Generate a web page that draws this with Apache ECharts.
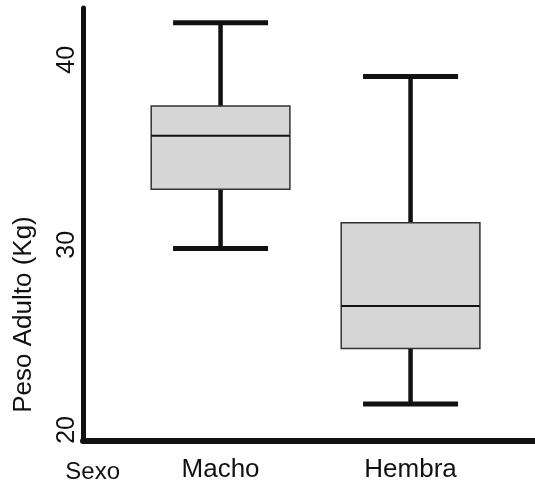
<!DOCTYPE html>
<html>
<head>
<meta charset="utf-8">
<script src="https://cdn.jsdelivr.net/npm/echarts@6/dist/echarts.min.js"></script>
<style>
html,body{margin:0;padding:0;background:#fff;}
#chart{width:535px;height:482px;}
</style>
</head>
<body>
<div id="chart"></div>
<script>
const categories = ['Macho', 'Hembra'];
const lowWhisker = [29.8, 21.4];
const q1 = [33.0, 24.4];
const median = [35.9, 26.7];
const q3 = [37.5, 31.2];
const highWhisker = [42.0, 39.1];
const yTickValues = [20, 30, 40];
const xTitle = 'Sexo';
const yTitle = 'Peso Adulto (Kg)';

const boxData = categories.map((c, i) => [i + 1, lowWhisker[i], q1[i], median[i], q3[i], highWhisker[i]]);

const FONT = '"Liberation Sans", Arial, sans-serif';
const INK = '#111';

const chart = echarts.init(document.getElementById('chart'), null, {renderer: 'canvas'});
chart.setOption({
  animation: false,
  backgroundColor: '#ffffff',
  grid: {left: 83, right: 0, top: 8, bottom: 41, containLabel: false, outerBoundsMode: 'none'},
  xAxis: {
    type: 'value',
    min: 0.276,
    max: 2.655,
    name: xTitle,
    nameLocation: 'start',
    nameGap: -37,
    nameTextStyle: {fontFamily: FONT, fontSize: 24, color: INK, verticalAlign: 'top', padding: [19, 0, 0, 0]},
    axisLine: {show: true, onZero: false, lineStyle: {color: INK, width: 6}},
    axisTick: {show: false},
    splitLine: {show: false},
    axisLabel: {
      customValues: [1, 2],
      formatter: v => categories[Math.round(v) - 1] || '',
      fontFamily: FONT, fontSize: 26, color: INK, margin: 16
    }
  },
  yAxis: {
    type: 'value',
    min: 19.4,
    max: 42.8,
    name: yTitle,
    nameLocation: 'middle',
    nameGap: 46,
    nameTextStyle: {fontFamily: FONT, fontSize: 26, color: INK, padding: [0, 180, 0, 0]},
    axisLine: {show: true, onZero: false, lineStyle: {color: INK, width: 5}},
    axisTick: {show: false},
    splitLine: {show: false},
    axisLabel: {
      customValues: yTickValues,
      rotate: 90,
      margin: 3,
      fontFamily: FONT, fontSize: 25, color: INK
    }
  },
  series: [{
    type: 'custom',
    data: boxData,
    encode: {x: 0, y: [1, 2, 3, 4, 5]},
    renderItem: function (params, api) {
      const x = api.value(0);
      const lo = api.coord([x, api.value(1)]);
      const b1 = api.coord([x, api.value(2)]);
      const md = api.coord([x, api.value(3)]);
      const b3 = api.coord([x, api.value(4)]);
      const hi = api.coord([x, api.value(5)]);
      const boxW = api.size([0.73, 0])[0];
      const capW = api.size([0.5, 0])[0];
      const cx = lo[0];
      const whisk = {stroke: INK, lineWidth: 4.5};
      return {
        type: 'group',
        children: [
          {type: 'line', shape: {x1: cx, y1: hi[1], x2: cx, y2: b3[1]}, style: whisk},
          {type: 'line', shape: {x1: cx, y1: b1[1], x2: cx, y2: lo[1]}, style: whisk},
          {type: 'line', shape: {x1: cx - capW / 2, y1: hi[1], x2: cx + capW / 2, y2: hi[1]}, style: {stroke: INK, lineWidth: 5}},
          {type: 'line', shape: {x1: cx - capW / 2, y1: lo[1], x2: cx + capW / 2, y2: lo[1]}, style: {stroke: INK, lineWidth: 5}},
          {type: 'rect', shape: {x: cx - boxW / 2, y: b3[1], width: boxW, height: b1[1] - b3[1]},
            style: {fill: '#d6d6d6', stroke: '#333', lineWidth: 1.5}},
          {type: 'line', shape: {x1: cx - boxW / 2, y1: md[1], x2: cx + boxW / 2, y2: md[1]}, style: {stroke: INK, lineWidth: 2}}
        ]
      };
    }
  }]
});
</script>
</body>
</html>
